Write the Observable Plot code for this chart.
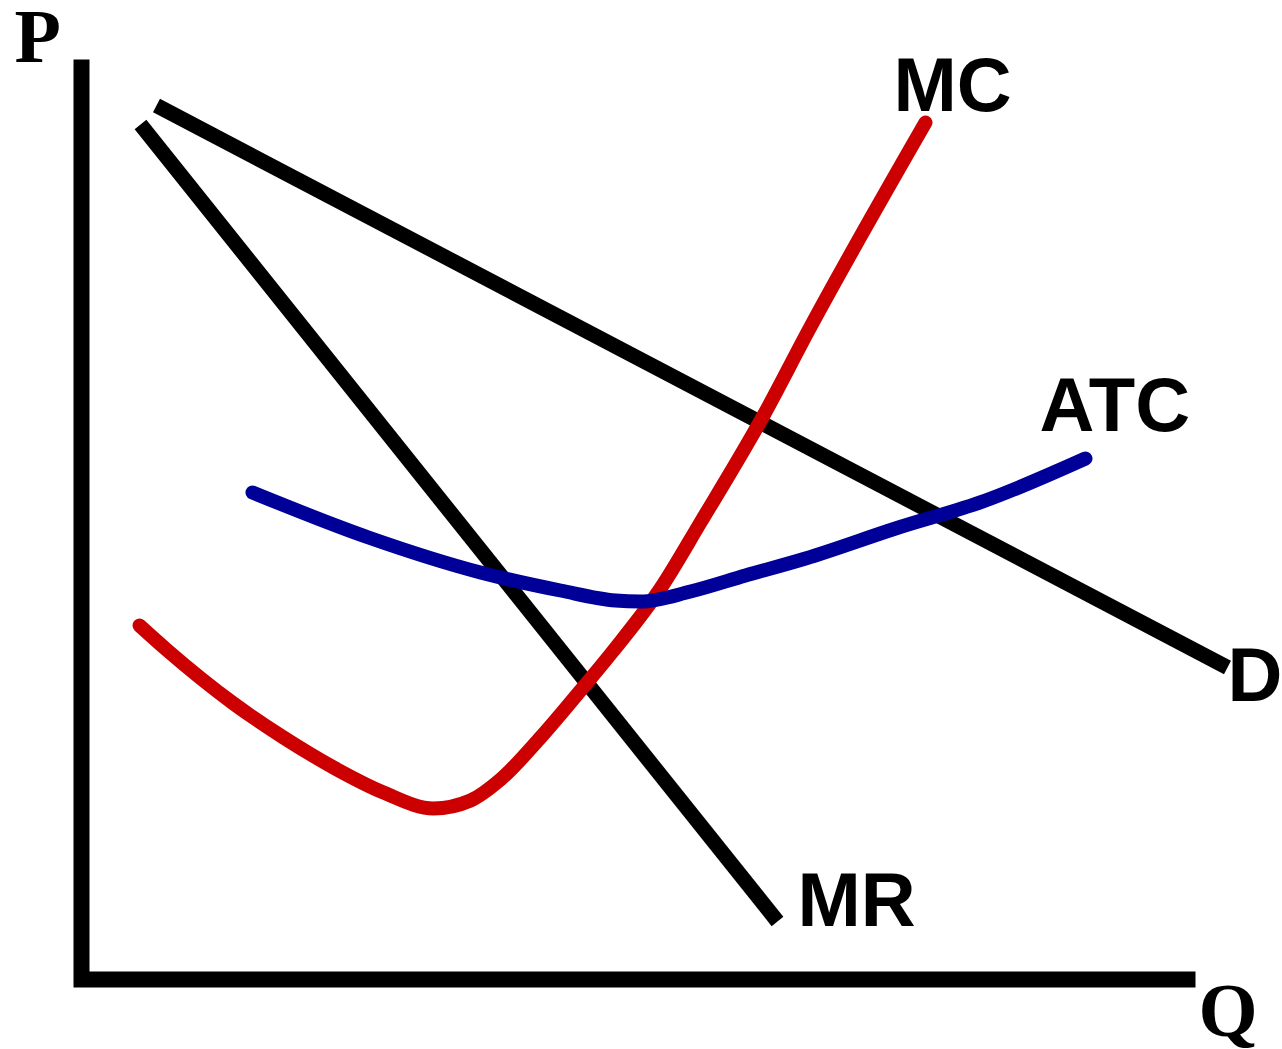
<!DOCTYPE html>
<html>
<head>
<meta charset="utf-8">
<script src="https://cdn.jsdelivr.net/npm/d3@7"></script>
<script src="https://cdn.jsdelivr.net/npm/@observablehq/plot@0.6"></script>
<style>
  html, body { margin: 0; padding: 0; background: #fff; }
  #chart svg { display: block; }
</style>
</head>
<body>
<div id="chart"></div>
<script>
// Monopolistic competition: demand, marginal revenue, marginal cost and average total cost.
// Quantity (Q) on the horizontal axis, price (P) on the vertical axis, in arbitrary units.

// Axis frame: top of the price axis, origin, end of the quantity axis
const axisQ = [0, 0, 111.4];
const axisP = [92, 0, 0];

// Demand curve (straight line)
const demandQ = [7.5, 114.6];
const demandP = [87.4, 31.2];

// Marginal revenue (straight line, steeper than demand)
const mrQ = [5.9, 69.6];
const mrP = [85.5, 5.8];

// Marginal cost (U-shaped, rising steeply)
const mcQ = [5.8, 8.6, 15.2, 20.2, 25.2, 30.2, 35.2, 38.9, 41.9, 45.9, 49.9, 53.2, 57.9, 61.9, 68.2, 72.7, 84.4];
const mcP = [35.4, 32.9, 27.6, 24.2, 21.2, 18.7, 17.1, 17.9, 20.0, 24.2, 28.9, 32.9, 39.1, 45.7, 56.4, 64.9, 85.7];

// Average total cost (shallow U)
const atcQ = [17.1, 28.7, 39.9, 47.9, 53.4, 55.9, 60.9, 66.4, 72.4, 81.4, 90.4, 100.4];
const atcP = [48.7, 44.2, 40.7, 38.9, 37.9, 37.8, 38.8, 40.4, 42.1, 45.1, 47.9, 52.1];

// Curve labels and axis letters
const curveLabels = ["MC", "ATC", "D", "MR"];
const curveLabelQ = [81.2, 95.8, 114.6, 71.6];
const curveLabelP = [86.9, 54.9, 27.9, 5.4];
const axisLabels = ["P", "Q"];
const axisLabelQ = [-6.7, 111.7];
const axisLabelP = [91.8, -5.6];

const zip = (qs, ps) => qs.map((q, i) => ({q, p: ps[i]}));
const zipText = (ts, qs, ps) => ts.map((t, i) => ({t, q: qs[i], p: ps[i]}));

const chart = Plot.plot({
  width: 1282,
  height: 1049,
  marginLeft: 81,
  marginRight: 0,
  marginTop: 0,
  marginBottom: 70,
  x: {domain: [0, 120.1], axis: null},
  y: {domain: [0, 97.9], axis: null},
  style: {background: "#fff", overflow: "visible"},
  marks: [
    // axes drawn as one thick polyline with a square outer corner
    Plot.line(zip(axisQ, axisP), {x: "q", y: "p", stroke: "#000", strokeWidth: 16, strokeLinejoin: "miter", strokeMiterlimit: 4, strokeLinecap: "butt"}),
    Plot.line(zip(demandQ, demandP), {x: "q", y: "p", stroke: "#000", strokeWidth: 15, strokeLinecap: "butt"}),
    Plot.line(zip(mrQ, mrP), {x: "q", y: "p", stroke: "#000", strokeWidth: 15, strokeLinecap: "butt"}),
    Plot.line(zip(mcQ, mcP), {x: "q", y: "p", stroke: "#cc0000", strokeWidth: 14, strokeLinecap: "round", curve: "monotone-x"}),
    Plot.line(zip(atcQ, atcP), {x: "q", y: "p", stroke: "#000099", strokeWidth: 14, strokeLinecap: "round", curve: "monotone-x"}),
    Plot.text(zipText(curveLabels, curveLabelQ, curveLabelP), {
      x: "q", y: "p", text: "t", textAnchor: "start", lineAnchor: "bottom",
      fontFamily: "Liberation Sans, Arial, sans-serif", fontWeight: "bold", fontSize: 76, fill: "#000"
    }),
    Plot.text(zipText(axisLabels, axisLabelQ, axisLabelP), {
      x: "q", y: "p", text: "t", textAnchor: "start", lineAnchor: "bottom",
      fontFamily: "Liberation Serif, Times New Roman, serif", fontWeight: "bold", fontSize: 76, fill: "#000"
    })
  ]
});

document.getElementById("chart").appendChild(chart);
</script>
</body>
</html>
